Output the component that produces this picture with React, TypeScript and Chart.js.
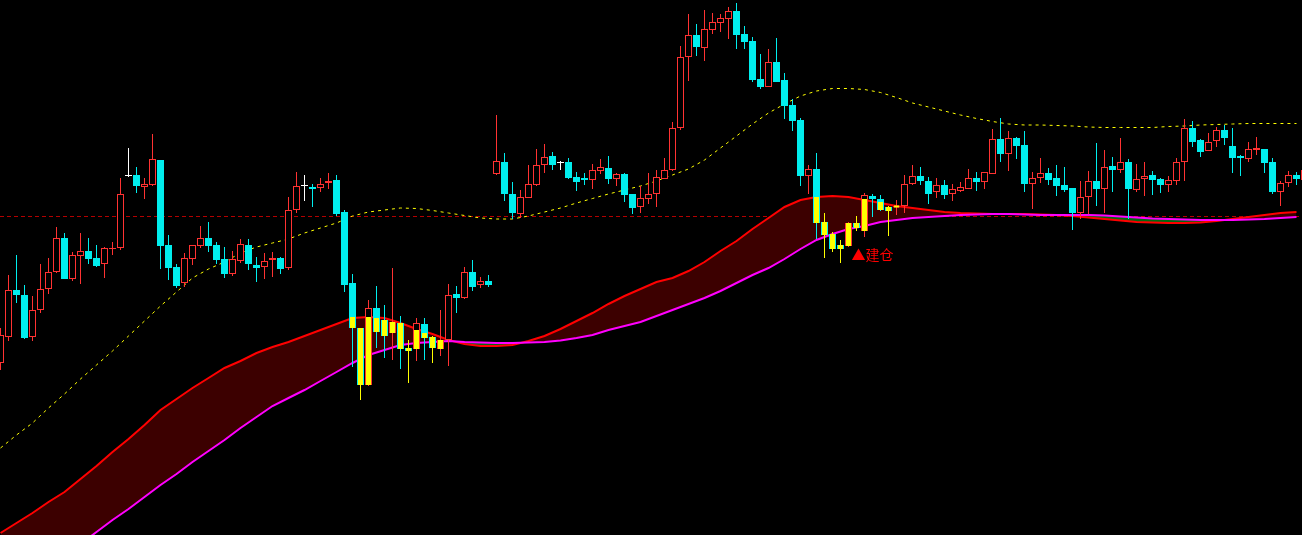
import React, { useEffect, useRef } from "react";
import { Chart, registerables } from "chart.js";

Chart.register(...registerables);

// ---- Candles (index 0..163) ----
const openP = [
  17.2, 19.8, 24.5, 24.0, 19.8, 22.5, 24.6, 26.3, 29.7, 25.6,
  27.9, 28.4, 27.7, 27.1, 28.6, 28.7, 35.9, 36.0, 34.8, 35.0,
  37.5, 29.0, 26.8, 25.2, 27.6, 28.9, 29.7, 29.0, 27.6, 26.1,
  27.4, 29.0, 27.0, 26.8, 27.5, 27.7, 26.7, 32.5, 34.9, 34.8,
  34.7, 35.2, 35.5, 32.3, 25.2, 20.7, 15.0, 22.7, 21.5, 20.2,
  21.2, 18.7, 18.6, 21.1, 19.8, 18.6, 19.5, 24.1, 23.7, 26.3,
  25.0, 25.4, 36.1, 37.3, 34.1, 32.1, 33.7, 35.0, 37.0, 37.9,
  37.2, 37.3, 35.8, 35.7, 35.5, 36.4, 36.7, 35.6, 36.1, 34.1,
  32.8, 33.6, 34.1, 35.6, 36.5, 40.7, 47.8, 50.0, 48.7, 50.5,
  51.2, 51.6, 52.4, 50.1, 49.4, 45.6, 44.8, 47.3, 45.5, 43.0,
  41.5, 35.9, 36.6, 31.3, 30.1, 29.0, 28.9, 31.2, 30.4, 33.9,
  33.6, 32.8, 32.75, 32.9, 35.1, 35.9, 35.4, 34.3, 35.0, 34.1,
  34.4, 34.6, 35.7, 35.3, 36.1, 39.6, 38.1, 39.7, 39.0, 35.1,
  35.7, 36.2, 35.7, 35.0, 34.7, 32.2, 33.8, 35.4, 34.6, 36.9,
  36.5, 37.3, 34.5, 35.6, 36.0, 35.6, 35.0, 35.4, 37.3, 40.7,
  39.5, 38.4, 39.4, 40.5, 38.9, 37.9, 37.6, 38.5, 38.6, 37.3,
  34.3, 35.2, 36.0, 35.5,
];
const closeP = [
  20.0, 24.5, 24.0, 19.7, 22.5, 24.6, 26.3, 29.7, 25.6, 28.0,
  28.4, 27.6, 26.9, 28.7, 28.7, 34.1, 35.9, 34.9, 35.1, 37.6,
  28.9, 26.7, 24.9, 27.7, 29.0, 29.7, 28.9, 27.5, 26.1, 27.6,
  29.1, 27.1, 26.7, 27.4, 27.7, 26.6, 32.5, 34.9, 34.9, 34.6,
  35.1, 35.4, 32.1, 25.0, 20.7, 15.0, 22.7, 20.3, 19.9, 21.3,
  18.6, 18.4, 21.2, 19.7, 18.7, 19.5, 24.0, 23.7, 26.3, 24.8,
  25.4, 25.0, 37.4, 34.1, 32.2, 33.8, 35.1, 37.0, 37.8, 37.0,
  37.2, 35.7, 35.3, 35.5, 36.5, 36.8, 35.6, 36.1, 34.0, 32.7,
  33.7, 34.1, 35.8, 36.5, 40.7, 47.8, 50.0, 48.8, 50.6, 51.3,
  51.7, 52.4, 50.0, 49.3, 45.5, 44.8, 47.3, 45.3, 42.9, 41.4,
  35.9, 36.6, 31.2, 30.0, 28.6, 28.6, 31.2, 30.7, 34.0, 33.6,
  32.5, 32.4, 32.9, 35.1, 35.9, 35.4, 34.1, 35.0, 34.0, 34.6,
  34.8, 35.7, 35.3, 36.3, 39.6, 38.1, 39.7, 38.9, 35.1, 35.7,
  36.2, 35.5, 34.9, 34.5, 32.2, 33.8, 35.4, 34.6, 36.8, 36.5,
  37.3, 34.6, 35.6, 35.9, 35.5, 35.0, 35.5, 37.3, 40.7, 39.3,
  38.3, 39.3, 40.5, 39.7, 37.7, 37.7, 38.6, 38.7, 37.2, 34.3,
  35.2, 36.0, 35.6, 36.5,
];
const highP = [
  20.7, 26.0, 28.0, 25.0, 23.9, 27.1, 27.7, 30.8, 30.2, 28.3,
  30.2, 29.7, 29.0, 28.8, 29.3, 35.7, 38.7, 36.8, 35.7, 40.1,
  37.5, 30.0, 27.1, 28.2, 29.0, 30.9, 31.3, 29.3, 28.8, 28.4,
  29.6, 29.6, 27.8, 28.2, 28.3, 27.8, 33.8, 36.3, 36.0, 35.1,
  35.7, 36.2, 36.0, 32.5, 26.1, 20.7, 23.5, 24.9, 23.0, 26.7,
  21.9, 19.5, 21.7, 21.7, 19.9, 22.5, 25.1, 24.9, 26.8, 27.5,
  25.8, 26.0, 42.0, 38.2, 35.3, 34.5, 37.0, 38.6, 39.1, 38.3,
  37.4, 37.7, 36.3, 36.2, 37.1, 37.6, 37.9, 36.2, 36.2, 34.1,
  34.9, 36.2, 36.5, 37.7, 41.3, 48.9, 52.1, 51.1, 52.5, 52.2,
  52.1, 52.8, 53.2, 50.9, 49.8, 48.1, 48.6, 49.7, 46.2, 43.6,
  41.7, 37.0, 38.2, 32.2, 30.3, 29.5, 31.3, 31.9, 34.2, 34.1,
  34.0, 32.9, 33.5, 36.0, 37.0, 36.8, 35.8, 35.7, 35.5, 35.1,
  35.3, 36.6, 36.3, 36.3, 40.6, 41.7, 40.4, 39.8, 40.4, 36.3,
  37.7, 36.7, 37.0, 36.8, 34.7, 35.4, 36.4, 39.2, 38.5, 37.8,
  39.7, 37.6, 37.1, 37.3, 36.4, 35.7, 35.9, 37.7, 41.6, 41.4,
  39.6, 40.2, 40.8, 41.0, 40.7, 38.0, 39.3, 39.8, 38.6, 37.7,
  35.4, 36.4, 36.3, 37.0,
];
const lowP = [
  16.5, 19.4, 23.2, 19.6, 19.4, 22.2, 24.1, 26.2, 25.6, 25.4,
  25.1, 27.1, 26.8, 25.7, 28.0, 28.5, 35.8, 34.2, 33.6, 34.9,
  26.6, 25.5, 24.7, 24.8, 27.0, 28.7, 28.3, 27.1, 25.7, 25.9,
  27.2, 26.5, 25.3, 25.6, 25.8, 26.1, 26.5, 32.2, 33.4, 32.8,
  34.3, 34.6, 31.9, 24.3, 16.8, 13.5, 14.9, 18.7, 17.7, 17.5,
  16.6, 15.2, 17.4, 17.5, 17.2, 17.9, 16.9, 22.2, 23.6, 24.4,
  24.7, 24.8, 36.0, 33.4, 31.6, 31.7, 33.7, 34.9, 36.2, 36.5,
  36.5, 35.6, 34.4, 35.0, 34.6, 36.1, 35.1, 34.9, 33.3, 32.1,
  32.2, 33.1, 32.8, 35.6, 36.4, 40.5, 45.4, 47.9, 47.4, 50.1,
  50.3, 49.6, 48.6, 48.6, 45.3, 44.6, 44.8, 45.3, 41.6, 40.4,
  34.9, 34.1, 29.6, 27.7, 28.3, 27.2, 28.8, 30.4, 29.8, 31.8,
  32.4, 29.9, 32.0, 32.2, 35.0, 35.0, 33.1, 33.7, 33.6, 33.4,
  34.3, 34.6, 34.4, 34.6, 36.1, 37.3, 36.4, 37.6, 34.3, 32.6,
  35.2, 35.0, 33.9, 34.3, 30.5, 31.6, 32.1, 32.9, 32.2, 34.3,
  36.2, 31.6, 34.3, 33.9, 34.0, 34.2, 34.3, 35.0, 35.4, 38.8,
  37.8, 38.4, 38.8, 39.0, 36.2, 35.9, 37.3, 38.0, 36.2, 34.1,
  32.9, 34.8, 35.0, 35.0,
];

// ---- Yellow highlight (body part inside the band) ----
const hiIdx = [44, 45, 46, 47, 48, 49, 50, 51, 52, 53, 54, 55, 102, 103, 104, 105, 106, 107, 108, 110, 111, 112];
const hiTop = [21.8, 20.7, 21.8, 21.7, 21.5, 21.3, 21.2, 18.7, 20.5, 20.2, 19.8, 19.5, 33.8, 31.3, 30.1, 29.0, 31.2, 31.2, 33.6, 33.3, 32.8, 32.95];
const hiBot = [20.7, 15.0, 15.0, 20.3, 19.9, 20.2, 18.6, 18.4, 18.6, 19.7, 18.7, 18.6, 31.2, 30.0, 28.6, 28.6, 28.9, 30.7, 30.4, 32.5, 32.4, 32.75];
const hiWickIdx = [45, 51, 54, 103, 104, 105, 107, 111];

// ---- Band lines (every 2nd candle) ----
const upperBand = [
  0.2, 1.2, 2.2, 3.3, 4.3, 5.6, 6.9, 8.3, 9.6, 11.0,
  12.5, 13.6, 14.7, 15.7, 16.7, 17.4, 18.2, 18.8, 19.3, 19.9,
  20.5, 21.1, 21.7, 21.8, 21.7, 21.2, 20.6, 20.1, 19.5, 19.1,
  18.9, 18.9, 19.0, 19.4, 19.9, 20.6, 21.4, 22.2, 23.1, 23.9,
  24.6, 25.3, 25.7, 26.4, 27.3, 28.4, 29.4, 30.6, 31.7, 32.8,
  33.5, 33.8, 33.9, 33.8, 33.5, 33.2, 32.9, 32.7, 32.5, 32.3,
  32.2, 32.15, 32.1, 32.1, 32.1, 32.05, 32.0, 31.9, 31.75, 31.6,
  31.45, 31.3, 31.25, 31.2, 31.2, 31.25, 31.4, 31.6, 31.8, 32.0,
  32.2, 32.3,
];
const lowerBand = [
  -6.9, -5.7, -4.5, -3.3, -2.1, -0.9, 0.3, 1.5, 2.6, 3.8,
  5.0, 6.1, 7.3, 8.4, 9.5, 10.7, 11.8, 12.9, 13.7, 14.5,
  15.4, 16.3, 17.2, 18.0, 18.5, 19.0, 19.2, 19.3, 19.4, 19.3,
  19.25, 19.2, 19.2, 19.25, 19.3, 19.45, 19.7, 20.0, 20.5, 20.9,
  21.3, 21.9, 22.5, 23.1, 23.7, 24.4, 25.2, 26.0, 26.7, 27.6,
  28.6, 29.5, 30.1, 30.6, 30.9, 31.3, 31.5, 31.7, 31.8, 31.9,
  32.0, 32.05, 32.1, 32.1, 32.05, 32.0, 32.0, 32.0, 32.0, 31.95,
  31.85, 31.75, 31.65, 31.6, 31.55, 31.5, 31.5, 31.5, 31.55, 31.6,
  31.7, 31.8,
];
const maLine = [
  8.7, 10.0, 11.2, 12.7, 14.1, 15.6, 17.0, 18.4, 19.9, 21.4,
  22.9, 24.3, 25.7, 26.6, 27.3, 28.2, 28.8, 29.2, 29.6, 30.2,
  30.7, 31.2, 31.9, 32.3, 32.5, 32.7, 32.65, 32.45, 32.2, 31.95,
  31.7, 31.6, 31.6, 31.9, 32.3, 32.7, 33.2, 33.65, 34.1, 34.5,
  34.9, 35.4, 36.0, 36.6, 37.5, 38.7, 39.9, 41.1, 42.2, 43.1,
  43.9, 44.4, 44.65, 44.65, 44.55, 44.25, 43.75, 43.2, 42.8, 42.4,
  42.0, 41.65, 41.35, 41.1, 41.0, 41.0, 40.95, 40.9, 40.8, 40.75,
  40.75, 40.75, 40.75, 40.85, 40.9, 41.0, 41.05, 41.1, 41.15, 41.15,
  41.15, 41.15,
];
const refLevel = 31.85;
const signalText = "▲建仓";
const signalIdx = 106;
const signalPrice = 28.0;

const X_MIN = -0.0625;
const X_MAX = X_MIN + 1302 / 8;
const Y_MIN = 0;
const Y_MAX = 53.5;

const UP = "#FF3232";
const DOWN = "#00EEEE";
const DOJI = "#FFFFFF";

function kind(i: number) {
  if (closeP[i] > openP[i]) return "up";
  if (closeP[i] < openP[i]) return "down";
  return "doji";
}
function candleColor(i: number) {
  const k = kind(i);
  return k === "up" ? UP : k === "down" ? DOWN : DOJI;
}

const signalPlugin = {
  id: "signalText",
  afterDatasetsDraw(chart: any) {
    const { ctx, scales } = chart;
    const x = scales.x.getPixelForValue(signalIdx) + 3;
    const y = scales.y.getPixelForValue(signalPrice);
    ctx.save();
    ctx.fillStyle = "#FF0000";
    ctx.font = '14px "Noto Sans CJK SC"';
    ctx.textBaseline = "middle";
    ctx.textAlign = "left";
    ctx.fillText(signalText, x, y);
    ctx.restore();
  },
};

export default function App() {
  const ref = useRef<HTMLCanvasElement | null>(null);

  useEffect(() => {
    document.body.style.margin = "0";
    document.body.style.background = "#000";
    const canvas = ref.current;
    if (!canvas) return;

    const even = (arr: number[]) => arr.map((v, k) => ({ x: 2 * k, y: v }));
    const barCommon = {
      type: "bar" as const,
      grouped: false,
      borderSkipped: false,
      inflateAmount: 0,
    };

    const chart = new Chart(canvas, {
      type: "bar",
      data: {
        datasets: [
          {
            type: "line",
            data: [
              { x: X_MIN, y: refLevel },
              { x: X_MAX, y: refLevel },
            ],
            borderColor: "#B40000",
            borderWidth: 1,
            borderDash: [4, 3],
            pointRadius: 0,
            order: 10,
          } as any,
          {
            type: "line",
            data: even(upperBand),
            borderColor: "#FF0000",
            borderWidth: 2,
            pointRadius: 0,
            tension: 0,
            fill: { target: 2, above: "#3C0000", below: "#006A10" },
            order: 9,
          } as any,
          {
            type: "line",
            data: even(lowerBand),
            borderColor: "#FF00FF",
            borderWidth: 2,
            pointRadius: 0,
            tension: 0,
            fill: false,
            order: 8,
          } as any,
          {
            type: "line",
            data: even(maLine),
            borderColor: "#FFFF00",
            borderWidth: 1,
            borderDash: [3, 4],
            pointRadius: 0,
            tension: 0,
            fill: false,
            order: 7,
          } as any,
          {
            ...barCommon,
            data: lowP.map((l, i) => ({ x: i, y: [l, highP[i]] })),
            backgroundColor: (c: any) => candleColor(c.dataIndex ?? 0),
            borderWidth: 0,
            barThickness: 1,
            order: 5,
          } as any,
          {
            ...barCommon,
            data: openP.map((o, i) => ({ x: i, y: [o, closeP[i]] })),
            backgroundColor: (c: any) => {
              const k = kind(c.dataIndex ?? 0);
              return k === "up" ? "#000000" : k === "down" ? DOWN : DOJI;
            },
            borderColor: (c: any) => candleColor(c.dataIndex ?? 0),
            borderWidth: (c: any) => (kind(c.dataIndex ?? 0) === "up" ? 1 : 0),
            barThickness: 7,
            minBarLength: 1,
            order: 4,
          } as any,
          {
            ...barCommon,
            data: hiIdx.map((ix, k) => ({ x: ix, y: [hiBot[k], hiTop[k]] })),
            backgroundColor: "#FFFF00",
            borderWidth: 0,
            barThickness: 5,
            minBarLength: 1,
            order: 3,
          } as any,
          {
            ...barCommon,
            data: hiWickIdx.map((ix) => ({ x: ix, y: [lowP[ix], highP[ix]] })),
            backgroundColor: "#FFFF00",
            borderWidth: 0,
            barThickness: 1,
            order: 2,
          } as any,
        ],
      },
      options: {
        animation: false,
        responsive: false,
        devicePixelRatio: 1,
        events: [],
        layout: { padding: 0 },
        plugins: {
          legend: { display: false },
          tooltip: { enabled: false },
          title: { display: false },
        },
        scales: {
          x: {
            type: "linear",
            min: X_MIN,
            max: X_MAX,
            offset: false,
            display: false,
          },
          y: {
            type: "linear",
            min: Y_MIN,
            max: Y_MAX,
            display: false,
          },
        },
      } as any,
      plugins: [signalPlugin],
    });

    return () => chart.destroy();
  }, []);

  return (
    <div
      style={{
        position: "fixed",
        left: 0,
        top: 0,
        width: 1302,
        height: 535,
        background: "#000",
      }}
    >
      <canvas ref={ref} width={1302} height={535} style={{ display: "block" }} />
    </div>
  );
}
